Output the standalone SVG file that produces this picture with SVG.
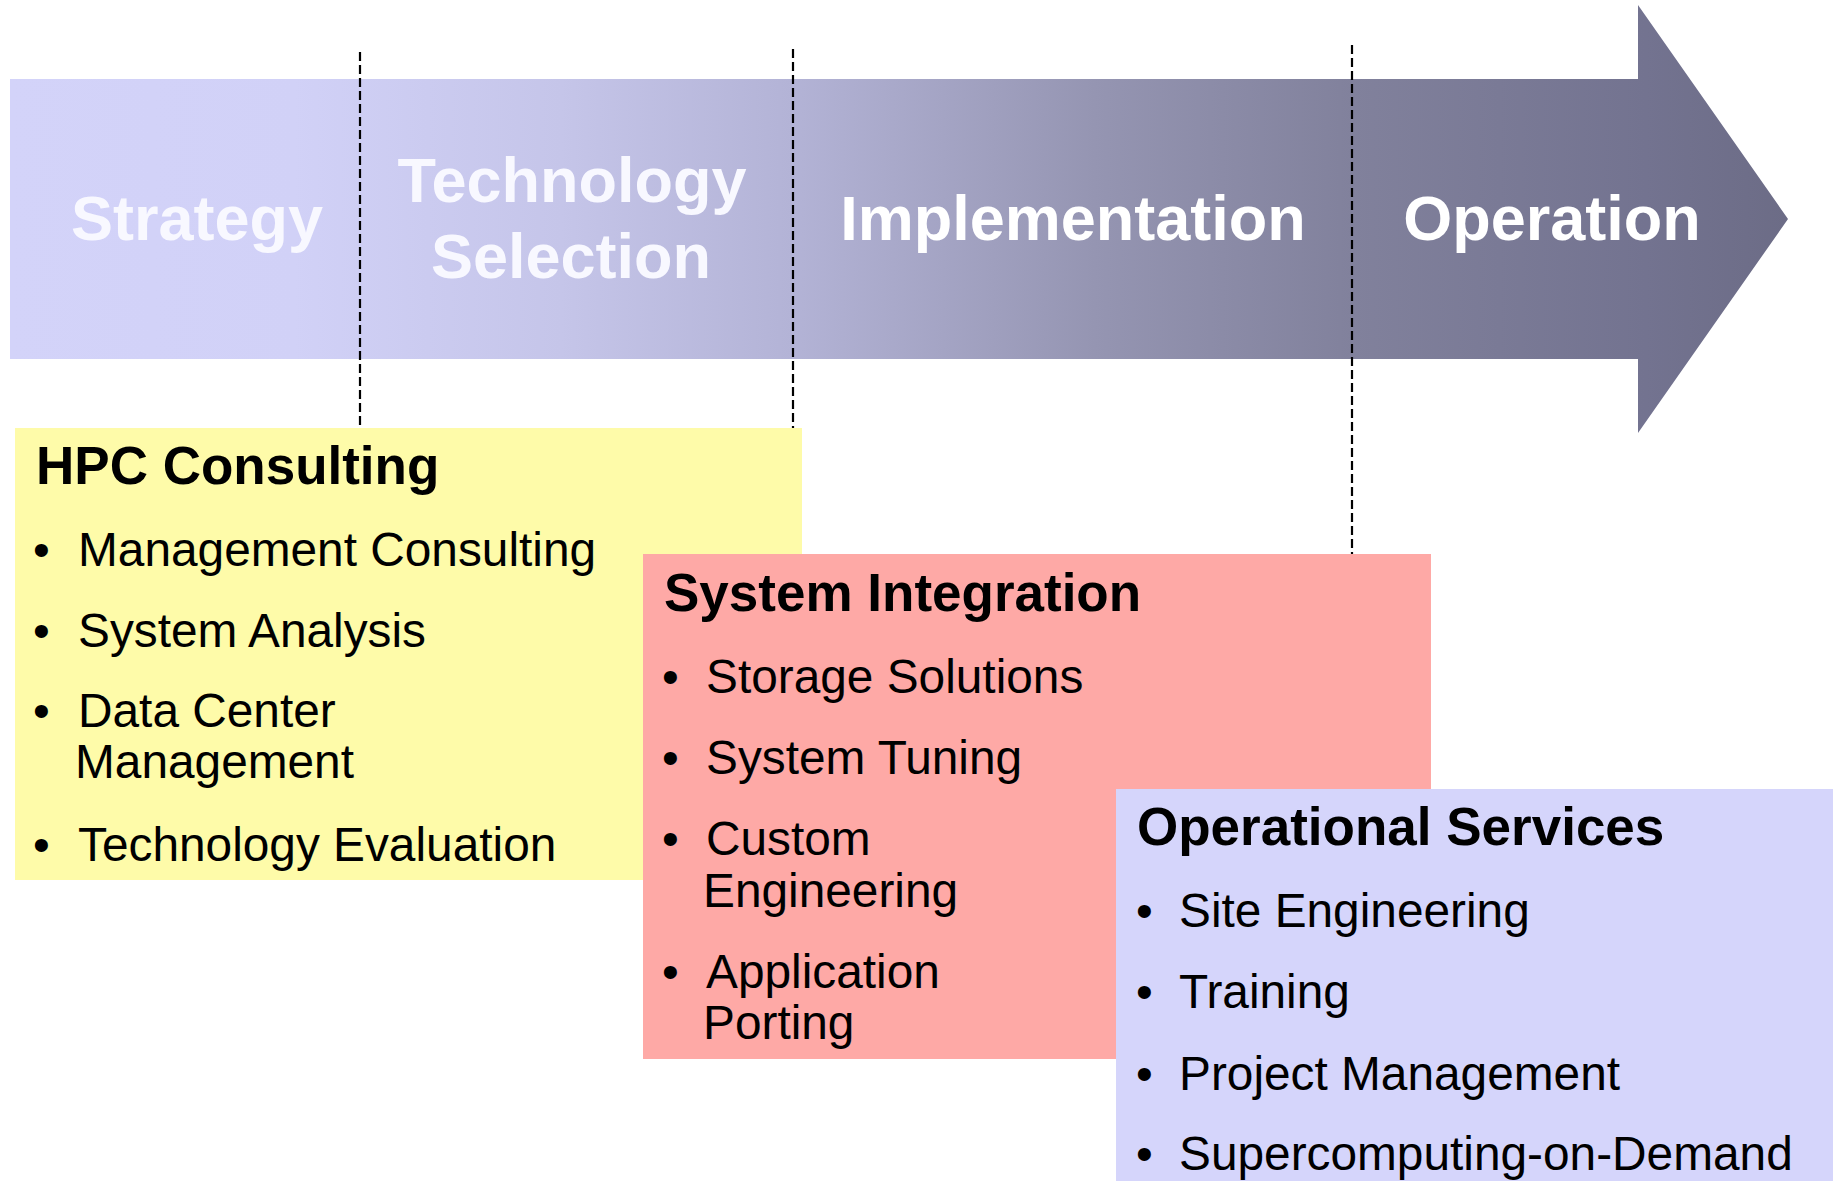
<svg xmlns="http://www.w3.org/2000/svg" width="1839" height="1181" viewBox="0 0 1839 1181">
  <defs>
    <linearGradient id="phaseGrad" gradientUnits="userSpaceOnUse" x1="10" y1="0" x2="1788" y2="0">
      <stop offset="0" stop-color="#d3d3f9"/>
      <stop offset="0.16" stop-color="#d1d1f7"/>
      <stop offset="0.31" stop-color="#c5c5e9"/>
      <stop offset="0.44" stop-color="#b3b3d6"/>
      <stop offset="0.61" stop-color="#9595b2"/>
      <stop offset="0.755" stop-color="#81819c"/>
      <stop offset="0.92" stop-color="#737390"/>
      <stop offset="1" stop-color="#6c6c86"/>
    </linearGradient>
    <style>
      .phase { font-family: "Liberation Sans", Arial, sans-serif; font-weight: bold; font-size: 63px; fill: #ffffff; text-anchor: middle; }
      .phase-light { fill: #f8f8ff; }
      .guide { stroke: #000000; stroke-width: 2.2; stroke-dasharray: 9 4; fill: none; }
      .title { font-family: "Liberation Sans", Arial, sans-serif; font-weight: bold; font-size: 53px; fill: #000000; }
      .item { font-family: "Liberation Sans", Arial, sans-serif; font-size: 47.8px; fill: #000000; }
    </style>
  </defs>

  <rect width="1839" height="1181" fill="#ffffff"/>

  <!-- phase arrow -->
  <g id="phase-arrow">
    <path d="M10,79 H1638 V5 L1788,219 L1638,433 V359 H10 Z" fill="url(#phaseGrad)"/>
    <text class="phase phase-light" x="197" y="240">Strategy</text>
    <text class="phase phase-light" x="572" y="202">Technology</text>
    <text class="phase phase-light" x="571" y="278">Selection</text>
    <text class="phase" x="1073" y="240">Implementation</text>
    <text class="phase" x="1552" y="240">Operation</text>
  </g>

  <!-- phase boundaries -->
  <g id="connectors">
    <line class="guide" x1="360" y1="52" x2="360" y2="428"/>
    <line class="guide" x1="793" y1="49" x2="793" y2="428"/>
    <line class="guide" x1="1352" y1="45" x2="1352" y2="554"/>
  </g>

  <g id="hpc-consulting">
    <rect x="15" y="428" width="787" height="452" fill="#fefba9"/>
    <text class="title" x="36" y="484">HPC Consulting</text>
    <text class="item" x="33" y="566">•</text>
    <text class="item" x="78" y="566">Management Consulting</text>
    <text class="item" x="33" y="647">•</text>
    <text class="item" x="78" y="647">System Analysis</text>
    <text class="item" x="33" y="727">•</text>
    <text class="item" x="78" y="727">Data Center</text>
    <text class="item" x="75" y="778">Management</text>
    <text class="item" x="33" y="861">•</text>
    <text class="item" x="78" y="861">Technology Evaluation</text>
  </g>

  <g id="system-integration">
    <rect x="643" y="554" width="788" height="505" fill="#fea9a6"/>
    <text class="title" x="664" y="611">System Integration</text>
    <text class="item" x="662" y="693">•</text>
    <text class="item" x="706" y="693">Storage Solutions</text>
    <text class="item" x="662" y="774">•</text>
    <text class="item" x="706" y="774">System Tuning</text>
    <text class="item" x="662" y="855">•</text>
    <text class="item" x="706" y="855">Custom</text>
    <text class="item" x="703" y="907">Engineering</text>
    <text class="item" x="662" y="988">•</text>
    <text class="item" x="706" y="988">Application</text>
    <text class="item" x="703" y="1039">Porting</text>
  </g>

  <g id="operational-services">
    <rect x="1116" y="789" width="717" height="392" fill="#d5d5fb"/>
    <text class="title" x="1137" y="845">Operational Services</text>
    <text class="item" x="1136" y="927">•</text>
    <text class="item" x="1179" y="927">Site Engineering</text>
    <text class="item" x="1136" y="1008">•</text>
    <text class="item" x="1179" y="1008">Training</text>
    <text class="item" x="1136" y="1090">•</text>
    <text class="item" x="1179" y="1090">Project Management</text>
    <text class="item" x="1136" y="1170">•</text>
    <text class="item" x="1179" y="1170">Supercomputing-on-Demand</text>
  </g>
</svg>
